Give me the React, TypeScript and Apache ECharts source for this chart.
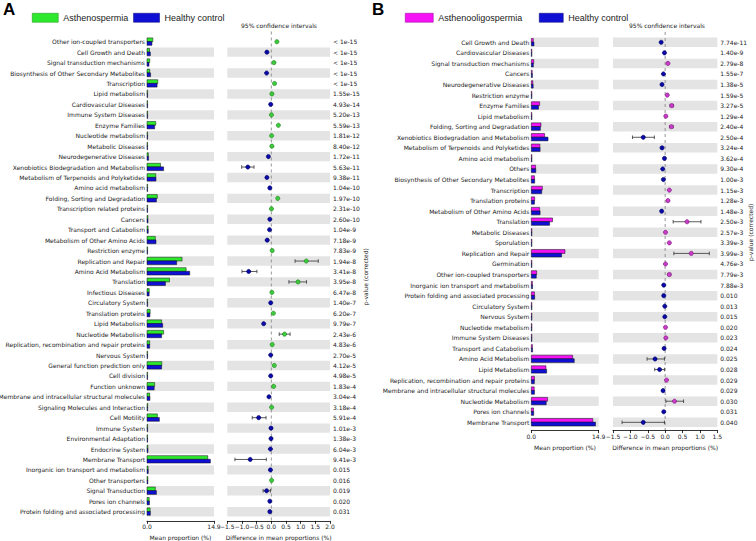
import React, { useEffect, useRef } from 'react';
import * as echarts from 'echarts';

// ---------------- Panel A data ----------------
const catsA = [
  'Other ion-coupled transporters',
  'Cell Growth and Death',
  'Signal transduction mechanisms',
  'Biosynthesis of Other Secondary Metabolites',
  'Transcription',
  'Lipid metabolism',
  'Cardiovascular Diseases',
  'Immune System Diseases',
  'Enzyme Families',
  'Nucleotide metabolism',
  'Metabolic Diseases',
  'Neurodegenerative Diseases',
  'Xenobiotics Biodegradation and Metabolism',
  'Metabolism of Terpenoids and Polyketides',
  'Amino acid metabolism',
  'Folding, Sorting and Degradation',
  'Transcription related proteins',
  'Cancers',
  'Transport and Catabolism',
  'Metabolism of Other Amino Acids',
  'Restriction enzyme',
  'Replication and Repair',
  'Amino Acid Metabolism',
  'Translation',
  'Infectious Diseases',
  'Circulatory System',
  'Translation proteins',
  'Lipid Metabolism',
  'Nucleotide Metabolism',
  'Replication, recombination and repair proteins',
  'Nervous System',
  'General function prediction only',
  'Cell division',
  'Function unknown',
  'Membrane and intracellular structural molecules',
  'Signaling Molecules and Interaction',
  'Cell Motility',
  'Immune System',
  'Environmental Adaptation',
  'Endocrine System',
  'Membrane Transport',
  'Inorganic ion transport and metabolism',
  'Other transporters',
  'Signal Transduction',
  'Pores ion channels',
  'Protein folding and associated processing',
];
const pA = [
  '< 1e-15', '< 1e-15', '< 1e-15', '< 1e-15', '< 1e-15', '1.55e-15', '4.93e-14', '5.20e-13', '5.59e-13', '1.81e-12',
  '8.40e-12', '1.72e-11', '5.63e-11', '9.38e-11', '1.04e-10', '1.97e-10', '2.31e-10', '2.60e-10', '1.04e-9', '7.18e-9',
  '7.83e-9', '1.94e-8', '3.41e-8', '3.95e-8', '6.47e-8', '1.40e-7', '6.20e-7', '9.79e-7', '2.43e-6', '4.83e-6',
  '2.70e-5', '4.12e-5', '4.98e-5', '1.83e-4', '3.04e-4', '3.18e-4', '5.91e-4', '1.01e-3', '1.38e-3', '6.04e-3',
  '9.41e-3', '0.015', '0.016', '0.019', '0.020', '0.031',
];
const asthA = [
  1.3, 0.55, 0.6, 0.6, 2.4, 0.1, 0.05, 0.05, 1.95, 0.05,
  0.05, 0.3, 3.0, 1.95, 0.1, 2.3, 0.02, 0.2, 0.25, 1.85,
  0.1, 7.8, 8.7, 5.0, 0.5, 0.05, 0.7, 3.25, 3.7, 0.6,
  0.05, 3.3, 0.05, 1.7, 0.6, 0.15, 2.3, 0.05, 0.1, 0.2,
  13.5, 0.25, 0.2, 1.85, 0.5, 0.7,
];
const hcA = [
  1.1, 0.75, 0.45, 0.8, 2.25, 0.08, 0.07, 0.05, 1.7, 0.05,
  0.04, 0.35, 3.7, 2.0, 0.12, 2.1, 0.02, 0.22, 0.28, 2.0,
  0.08, 6.6, 9.5, 4.1, 0.48, 0.07, 0.65, 3.5, 3.25, 0.6,
  0.07, 3.25, 0.07, 1.6, 0.65, 0.14, 2.75, 0.06, 0.11, 0.22,
  14.1, 0.28, 0.19, 2.1, 0.55, 0.75,
];
const diffA = [
  0.19, -0.15, 0.09, -0.16, 0.11, 0.02, -0.02, 0.005, 0.24, 0.01,
  0.02, -0.1, -0.8, -0.15, -0.05, 0.22, 0.005, -0.05, -0.06, -0.14,
  0.03, 1.19, -0.77, 0.91, 0.02, -0.02, 0.07, -0.26, 0.45, 0.03,
  -0.02, 0.1, -0.02, 0.08, -0.08, 0.01, -0.43, -0.01, -0.01, -0.03,
  -0.72, -0.03, 0.01, -0.16, -0.05, -0.05,
];
const ciLowA = [
  null, null, null, null, null, null, null, null, null, null,
  null, null, -1.01, null, null, null, null, null, null, null,
  null, 0.81, -1.0, 0.6, null, null, null, null, 0.27, null,
  null, null, null, null, null, null, -0.65, null, null, null,
  -1.24, null, null, -0.28, null, null,
];
const ciHighA = [
  null, null, null, null, null, null, null, null, null, null,
  null, null, -0.59, null, null, null, null, null, null, null,
  null, 1.6, -0.49, 1.2, null, null, null, null, 0.64, null,
  null, null, null, null, null, null, -0.18, null, null, null,
  -0.17, null, null, -0.03, null, null,
];

// ---------------- Panel B data ----------------
const catsB = [
  'Cell Growth and Death',
  'Cardiovascular Diseases',
  'Signal transduction mechanisms',
  'Cancers',
  'Neurodegenerative Diseases',
  'Restriction enzyme',
  'Enzyme Families',
  'Lipid metabolism',
  'Folding, Sorting and Degradation',
  'Xenobiotics Biodegradation and Metabolism',
  'Metabolism of Terpenoids and Polyketides',
  'Amino acid metabolism',
  'Others',
  'Biosynthesis of Other Secondary Metabolites',
  'Transcription',
  'Translation proteins',
  'Metabolism of Other Amino Acids',
  'Translation',
  'Metabolic Diseases',
  'Sporulation',
  'Replication and Repair',
  'Germination',
  'Other ion-coupled transporters',
  'Inorganic ion transport and metabolism',
  'Protein folding and associated processing',
  'Circulatory System',
  'Nervous System',
  'Nucleotide metabolism',
  'Immune System Diseases',
  'Transport and Catabolism',
  'Amino Acid Metabolism',
  'Lipid Metabolism',
  'Replication, recombination and repair proteins',
  'Membrane and intracellular structural molecules',
  'Nucleotide Metabolism',
  'Pores ion channels',
  'Membrane Transport',
];
const pB = [
  '7.74e-11', '1.40e-9', '2.79e-8', '1.55e-7', '1.38e-5', '1.59e-5', '3.27e-5', '1.29e-4', '2.40e-4', '2.50e-4',
  '3.24e-4', '3.62e-4', '9.30e-4', '1.00e-3', '1.15e-3', '1.28e-3', '1.48e-3', '2.50e-3', '2.57e-3', '3.39e-3',
  '3.99e-3', '4.76e-3', '7.79e-3', '7.88e-3', '0.010', '0.013', '0.015', '0.020', '0.023', '0.024',
  '0.025', '0.028', '0.029', '0.029', '0.030', '0.031', '0.040',
];
const asthB = [
  0.45, 0.05, 0.55, 0.2, 0.35, 0.05, 1.85, 0.05, 2.15, 2.95,
  1.9, 0.05, 0.95, 0.7, 2.45, 0.75, 1.85, 4.7, 0.05, 0.1,
  7.45, 0.05, 1.2, 0.25, 0.7, 0.05, 0.05, 0.05, 0.05, 0.25,
  9.15, 3.25, 0.7, 0.65, 3.6, 0.5, 13.6,
];
const hcB = [
  0.6, 0.07, 0.45, 0.25, 0.42, 0.03, 1.6, 0.04, 2.0, 3.7,
  1.95, 0.07, 1.0, 0.75, 2.3, 0.7, 1.95, 4.05, 0.05, 0.05,
  6.7, 0.04, 1.1, 0.28, 0.75, 0.06, 0.06, 0.04, 0.04, 0.28,
  9.5, 3.4, 0.68, 0.7, 3.3, 0.53, 14.2,
];
const diffB = [
  -0.115, -0.02, 0.08, -0.05, -0.09, 0.06, 0.19, 0.02, 0.18, -0.63,
  -0.09, -0.02, -0.07, -0.05, 0.12, 0.08, -0.1, 0.63, 0.01, 0.12,
  0.75, 0.01, 0.12, -0.04, -0.04, -0.01, -0.01, 0.01, 0.02, -0.03,
  -0.29, -0.16, 0.04, -0.06, 0.27, -0.04, -0.63,
];
const ciLowB = [
  null, null, null, null, null, null, 0.14, null, 0.13, -0.94,
  null, null, null, null, null, null, null, 0.23, null, null,
  0.25, null, 0.08, null, null, null, null, null, null, null,
  -0.52, -0.3, null, null, 0.02, null, -1.24,
];
const ciHighB = [
  null, null, null, null, null, null, 0.24, null, 0.23, -0.31,
  null, null, null, null, null, null, null, 1.03, null, null,
  1.27, null, 0.16, null, null, null, null, null, null, null,
  -0.02, -0.02, null, null, 0.53, null, -0.02,
];

const FONT = 'DejaVu Sans';
const LFONT = 'Liberation Sans';
const TXT = '#1a1a1a';
const GREEN = '#2ee82e';
const MAGENTA = '#f512f5';
const BLUE = '#1010d4';
const BAND = '#e4e4e4';

const bandRender = (params: any, api: any) => {
  const i = api.value(1);
  const c = api.coord([0, i]);
  const h = api.size([0, 1])[1] * 0.9;
  const cs = params.coordSys;
  return {
    type: 'rect',
    silent: true,
    shape: { x: cs.x, y: c[1] - h / 2, width: cs.width, height: h },
    style: { fill: BAND },
  };
};

const barRender = (color: string, upper: boolean) => (params: any, api: any) => {
  const v = api.value(0);
  const i = api.value(1);
  const p0 = api.coord([0, i]);
  const p1 = api.coord([v, i]);
  const h = 3.8;
  return {
    type: 'rect',
    shape: { x: p0[0], y: upper ? p0[1] - h : p0[1] - 0.2, width: Math.max(p1[0] - p0[0], 0.6), height: h },
    style: { fill: color, stroke: '#111', lineWidth: 0.5 },
  };
};

const ciRender = (posFill: string, posStroke: string) => (params: any, api: any) => {
  const d = api.value(0);
  const i = api.value(1);
  const lo = api.value(2);
  const hi = api.value(3);
  const c = api.coord([d, i]);
  const children: any[] = [];
  if (isFinite(lo) && isFinite(hi)) {
    const a = api.coord([lo, i]);
    const b = api.coord([hi, i]);
    const ls = { stroke: '#333', lineWidth: 0.8 };
    children.push({ type: 'line', shape: { x1: a[0], y1: c[1], x2: b[0], y2: c[1] }, style: ls });
    children.push({ type: 'line', shape: { x1: a[0], y1: c[1] - 1.8, x2: a[0], y2: c[1] + 1.8 }, style: ls });
    children.push({ type: 'line', shape: { x1: b[0], y1: c[1] - 1.8, x2: b[0], y2: c[1] + 1.8 }, style: ls });
  }
  const pos = d >= 0;
  children.push({
    type: 'circle',
    shape: { cx: c[0], cy: c[1], r: 2.1 },
    style: { fill: pos ? posFill : '#0a0aa8', stroke: pos ? posStroke : '#000060', lineWidth: 0.6 },
  });
  return { type: 'group', children };
};

const zeroLineRender = (extra: number) => (params: any, api: any) => {
  const cs = params.coordSys;
  const x = api.coord([0, 0])[0];
  return {
    type: 'line',
    silent: true,
    shape: { x1: x, y1: cs.y - 5, x2: x, y2: cs.y + cs.height + extra },
    style: { stroke: '#8a8a8a', lineWidth: 0.9, lineDash: [3, 3] },
  };
};

const fmtSigned = (v: number) => (v < -1e-9 ? '\u2212' : '') + Math.abs(v).toFixed(1);

const valueAxis = (gridIndex: number, min: number, max: number, interval: number, name: string, offset: number, nameGap: number, fmt: (v: number) => string) => ({
  gridIndex,
  type: 'value',
  min,
  max,
  interval,
  offset,
  position: 'bottom',
  name,
  nameLocation: 'middle',
  nameGap,
  nameTextStyle: { fontSize: 6, fontFamily: FONT, color: TXT },
  axisLine: { show: true, lineStyle: { color: '#000', width: 0.8 } },
  axisTick: { show: true, length: 3, lineStyle: { color: '#000', width: 0.8 } },
  axisLabel: { fontSize: 6, fontFamily: FONT, color: TXT, margin: 3, formatter: fmt, showMaxLabel: true, showMinLabel: true },
  splitLine: { show: false },
});

const catAxis = (gridIndex: number, cats: string[]) => ({
  gridIndex,
  type: 'category',
  data: cats,
  inverse: true,
  axisLine: { show: false },
  axisTick: { show: false },
  splitLine: { show: false },
  axisLabel: { interval: 0, fontSize: 6, fontFamily: FONT, color: TXT, margin: 2 },
});

const hiddenCatAxis = (gridIndex: number, cats: string[]) => ({
  gridIndex,
  type: 'category',
  data: cats,
  inverse: true,
  show: false,
});

const pAxis = (gridIndex: number, pv: string[], nameGap: number) => ({
  gridIndex,
  type: 'category',
  position: 'right',
  data: pv.map((_, i) => String(i)),
  inverse: true,
  axisLine: { show: false },
  axisTick: { show: false },
  splitLine: { show: false },
  axisLabel: { interval: 0, fontSize: 6, fontFamily: FONT, color: TXT, margin: 3, formatter: (_v: string, i: number) => pv[i] },
  name: 'p-value (corrected)',
  nameLocation: 'middle',
  nameRotate: 90,
  nameGap,
  nameMoveOverlap: false,
  nameTextStyle: { fontSize: 6, fontFamily: FONT, color: TXT },
});

function bandRows(n: number, start: number) {
  const out: number[][] = [];
  for (let i = start; i < n; i += 2) out.push([0, i]);
  return out;
}

const legendBase = {
  icon: 'rect',
  itemHeight: 9,
  padding: 0,
  selectedMode: false,
  textStyle: { fontSize: 9, fontFamily: LFONT, color: TXT },
};

export default function App() {
  const ref = useRef<HTMLDivElement>(null);
  useEffect(() => {
    document.body.style.margin = '0';
    if (!ref.current) return;
    const chart = echarts.init(ref.current, null, { renderer: 'svg' });

    const gridA0 = { left: 147, top: 36.5, width: 67, height: 480.4, outerBoundsMode: 'none' };
    const gridA1 = { left: 227.3, top: 36.5, width: 102.7, height: 480.4, outerBoundsMode: 'none' };
    const gridB0 = { left: 531.3, top: 37, width: 67.4, height: 390.6, outerBoundsMode: 'none' };
    const gridB1 = { left: 613, top: 37, width: 104.3, height: 390.6, outerBoundsMode: 'none' };

    const option: any = {
      animation: false,
      backgroundColor: '#fff',
      grid: [gridA0, gridA1, gridB0, gridB1],
      xAxis: [
        valueAxis(0, 0, 14.9, 14.9, 'Mean proportion (%)', 4, 13, (v: number) => v.toFixed(1)),
        valueAxis(1, -1.5, 2.0, 0.5, 'Difference in mean proportions (%)', 4, 13, fmtSigned),
        valueAxis(2, 0, 14.9, 14.9, 'Mean proportion (%)', 2.5, 13, (v: number) => v.toFixed(1)),
        valueAxis(3, -1.5, 1.5, 0.5, 'Difference in mean proportions (%)', 2.5, 13, fmtSigned),
      ],
      yAxis: [
        catAxis(0, catsA),
        hiddenCatAxis(1, catsA),
        pAxis(1, pA, 32),
        catAxis(2, catsB),
        hiddenCatAxis(3, catsB),
        pAxis(3, pB, 30),
      ],
      legend: [
        {
          ...legendBase,
          left: 32, top: 13, itemWidth: 26, itemGap: 5,
          data: [
            { name: 'Asthenospermia', itemStyle: { color: GREEN, borderColor: '#1a8a1a', borderWidth: 0.5 } },
            { name: 'Healthy control', itemStyle: { color: BLUE, borderColor: '#000070', borderWidth: 0.5 } },
          ],
        },
        {
          ...legendBase,
          left: 405, top: 13, itemWidth: 28,
          data: [
            { name: 'Asthenooligospermia', itemStyle: { color: MAGENTA, borderColor: '#900090', borderWidth: 0.5 } },
          ],
        },
        {
          ...legendBase,
          left: 539, top: 13, itemWidth: 24,
          data: [
            { name: 'Healthy control', itemStyle: { color: BLUE, borderColor: '#000070', borderWidth: 0.5 } },
          ],
        },
      ],
      graphic: [
        { type: 'text', left: 3, top: 1, style: { text: 'A', font: 'bold 17px "Liberation Sans"', fill: '#000' } },
        { type: 'text', left: 372, top: 1, style: { text: 'B', font: 'bold 17px "Liberation Sans"', fill: '#000' } },
        { type: 'text', x: 279, y: 25.5, style: { text: '95% confidence intervals', font: '6px "DejaVu Sans"', fill: TXT, textAlign: 'center', textVerticalAlign: 'middle' } },
        { type: 'text', x: 667, y: 25.5, style: { text: '95% confidence intervals', font: '6px "DejaVu Sans"', fill: TXT, textAlign: 'center', textVerticalAlign: 'middle' } },
      ],
      series: [
        // Panel A
        { type: 'custom', name: 'bandA0', xAxisIndex: 0, yAxisIndex: 0, z: 1, clip: false, silent: true, renderItem: bandRender, data: bandRows(catsA.length, 1), encode: { x: 0, y: 1 } },
        { type: 'custom', name: 'Asthenospermia', xAxisIndex: 0, yAxisIndex: 0, z: 3, clip: false, itemStyle: { color: GREEN }, renderItem: barRender(GREEN, true), data: asthA.map((v, i) => [v, i]), encode: { x: 0, y: 1 } },
        { type: 'custom', name: 'Healthy control', xAxisIndex: 0, yAxisIndex: 0, z: 4, clip: false, itemStyle: { color: BLUE }, renderItem: barRender(BLUE, false), data: hcA.map((v, i) => [v, i]), encode: { x: 0, y: 1 } },
        { type: 'custom', name: 'bandA1', xAxisIndex: 1, yAxisIndex: 1, z: 1, clip: false, silent: true, renderItem: bandRender, data: bandRows(catsA.length, 1), encode: { x: 0, y: 1 } },
        { type: 'custom', name: 'zeroA', xAxisIndex: 1, yAxisIndex: 1, z: 2, clip: false, silent: true, renderItem: zeroLineRender(4), data: [[0, 0]], encode: { x: 0, y: 1 } },
        { type: 'custom', name: 'ciA', xAxisIndex: 1, yAxisIndex: 1, z: 5, clip: false, renderItem: ciRender('#3ccc3c', '#1a7a1a'), data: diffA.map((d, i) => [d, i, ciLowA[i] ?? '-', ciHighA[i] ?? '-']), encode: { x: 0, y: 1 } },
        // Panel B
        { type: 'custom', name: 'bandB0', xAxisIndex: 2, yAxisIndex: 3, z: 1, clip: false, silent: true, renderItem: bandRender, data: bandRows(catsB.length, 0), encode: { x: 0, y: 1 } },
        { type: 'custom', name: 'Asthenooligospermia', xAxisIndex: 2, yAxisIndex: 3, z: 3, clip: false, itemStyle: { color: MAGENTA }, renderItem: barRender(MAGENTA, true), data: asthB.map((v, i) => [v, i]), encode: { x: 0, y: 1 } },
        { type: 'custom', name: 'Healthy control', xAxisIndex: 2, yAxisIndex: 3, z: 4, clip: false, itemStyle: { color: BLUE }, renderItem: barRender(BLUE, false), data: hcB.map((v, i) => [v, i]), encode: { x: 0, y: 1 } },
        { type: 'custom', name: 'bandB1', xAxisIndex: 3, yAxisIndex: 4, z: 1, clip: false, silent: true, renderItem: bandRender, data: bandRows(catsB.length, 0), encode: { x: 0, y: 1 } },
        { type: 'custom', name: 'zeroB', xAxisIndex: 3, yAxisIndex: 4, z: 2, clip: false, silent: true, renderItem: zeroLineRender(2.5), data: [[0, 0]], encode: { x: 0, y: 1 } },
        { type: 'custom', name: 'ciB', xAxisIndex: 3, yAxisIndex: 4, z: 5, clip: false, renderItem: ciRender('#c83cc8', '#7a107a'), data: diffB.map((d, i) => [d, i, ciLowB[i] ?? '-', ciHighB[i] ?? '-']), encode: { x: 0, y: 1 } },
      ],
    };
    chart.setOption(option);
    return () => chart.dispose();
  }, []);
  return <div ref={ref} style={{ width: 756, height: 541 }} />;
}
